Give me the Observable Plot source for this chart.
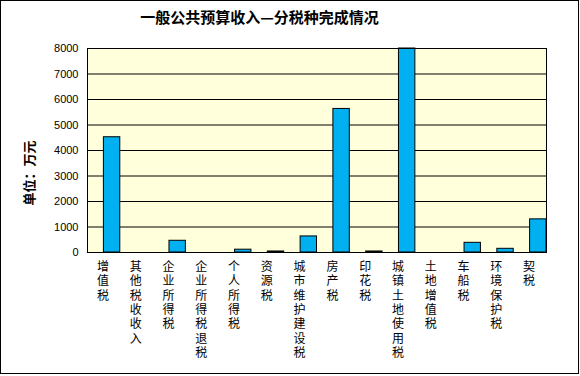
<!DOCTYPE html>
<html>
<head>
<meta charset="utf-8">
<script src="https://cdn.jsdelivr.net/npm/d3@7"></script>
<script src="https://cdn.jsdelivr.net/npm/@observablehq/plot@0.6"></script>
<style>
  html, body { margin: 0; padding: 0; background: #fff; }
  #wrap { position: relative; width: 580px; height: 376px; }
  #border { position: absolute; left: 0; top: 0; width: 577px; height: 372px; border: 1px solid #000; pointer-events: none; }
</style>
</head>
<body>
<div id="wrap"><div id="border"></div></div>
<script>
const title = "一般公共预算收入—分税种完成情况";
const yLabel = "单位：万元";
const categories = ["增值税","其他税收收入","企业所得税","企业所得税退税","个人所得税","资源税","城市维护建设税","房产税","印花税","城镇土地使用税","土地增值税","车船税","环境保护税","契税"];
const values = [4520, 0, 460, 0, 110, 40, 630, 5630, 40, 8000, 0, 380, 145, 1300];
const yTicks = [0, 1000, 2000, 3000, 4000, 5000, 6000, 7000, 8000];

const data = categories.map((c, i) => ({category: c, value: values[i]}));
const font = "'Noto Sans CJK SC', 'Liberation Sans', sans-serif";

const width = 580, height = 376;
const mL = 87, mR = 34, mT = 48, mB = 124;
const band = (width - mL - mR) / categories.length;

const chart = Plot.plot({
  width, height,
  marginLeft: mL, marginRight: mR, marginTop: mT, marginBottom: mB,
  style: {fontFamily: font, background: "transparent", overflow: "visible"},
  x: {type: "band", domain: categories, padding: 0, round: false, axis: null},
  y: {domain: [0, 8000], ticks: yTicks, axis: null},
  marks: [
    Plot.frame({fill: "#FFFFDC", stroke: null}),
    Plot.ruleY(yTicks, {stroke: "#000", strokeWidth: 1}),
    Plot.barY(data, {x: "category", y: "value", fill: "#00B0F0", stroke: "#000", strokeWidth: 1, insetLeft: band / 2, insetRight: 0}),
    Plot.frame({stroke: "#000", strokeWidth: 1}),
    Plot.axisY(yTicks, {tickSize: 0, tickPadding: 9, fontSize: 11, fontFamily: "'Liberation Sans', Arial, sans-serif", fill: "#000", label: null, tickFormat: d => String(d)}),
    Plot.text(categories, {x: d => d, dx: -1, frameAnchor: "bottom", lineAnchor: "top", dy: 8, text: d => d.split("").join("\n"), lineHeight: 1.2, fontSize: 12, fill: "#000"}),
    Plot.text([title], {frameAnchor: "top", dx: -57.5, dy: -30, lineAnchor: "middle", fontSize: 15, fontWeight: "bold", fill: "#000"}),
    Plot.text([yLabel], {frameAnchor: "bottom-left", textAnchor: "start", dx: -54, dy: -47, rotate: -90, fontSize: 13, fontWeight: "bold", fill: "#000"})
  ]
});
document.getElementById("wrap").prepend(chart);
</script>
</body>
</html>
